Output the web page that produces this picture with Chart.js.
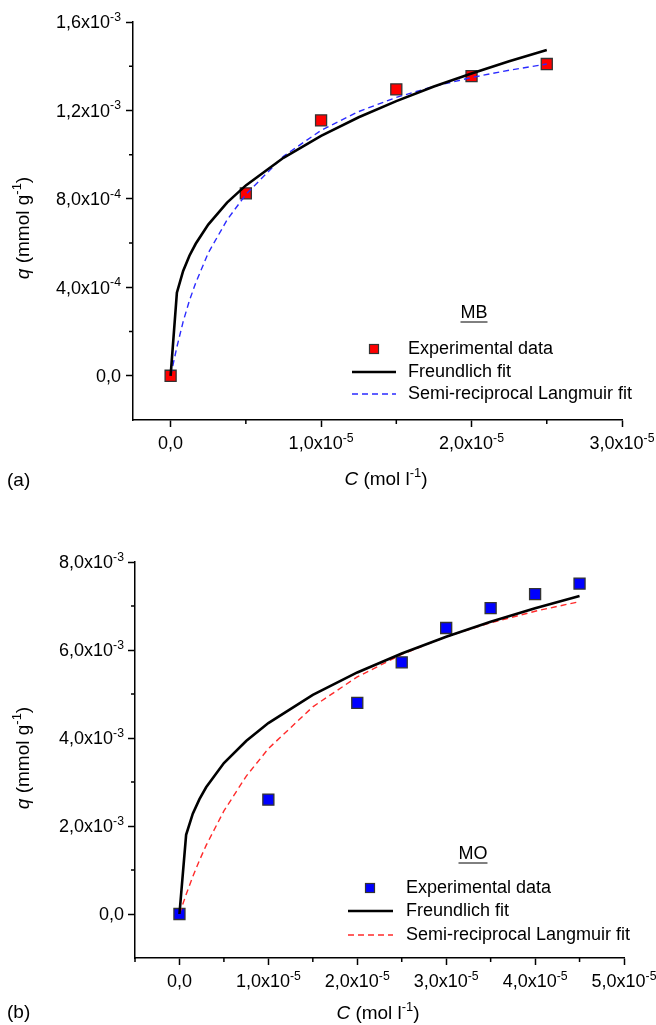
<!DOCTYPE html>
<html>
<head>
<meta charset="utf-8">
<script src="https://cdn.jsdelivr.net/npm/chart.js@4.4.1/dist/chart.umd.min.js"></script>
<style>
  body { margin: 0; background: #fff; }
  canvas { position: absolute; left: 0; }
  #chartA { top: 0; }
  #chartB { top: 510px; }
</style>
</head>
<body>
<canvas id="chartA" width="656" height="510"></canvas>
<canvas id="chartB" width="656" height="515"></canvas>
<script>
// (a) MB
const mbC = [0, 0.5e-5, 1.0e-5, 1.5e-5, 2.0e-5, 2.5e-5];
const mbQ = [0, 8.25e-4, 1.155e-3, 1.295e-3, 1.355e-3, 1.41e-3];
const mbFitC = [0, 0.0417e-5, 0.0833e-5, 0.125e-5, 0.1667e-5, 0.25e-5, 0.375e-5, 0.5e-5, 0.75e-5,
  1.0e-5, 1.25e-5, 1.5e-5, 1.75e-5, 2.0e-5, 2.25e-5, 2.5e-5];
const mbFreundlich = [0, 3.76e-4, 4.74e-4, 5.43e-4, 5.97e-4, 6.84e-4, 7.83e-4, 8.61e-4, 9.86e-4,
  1.085e-3, 1.169e-3, 1.242e-3, 1.308e-3, 1.367e-3, 1.422e-3, 1.473e-3];
const mbLangmuir = [0, 1.30e-4, 2.45e-4, 3.40e-4, 4.20e-4, 5.55e-4, 7.05e-4, 8.20e-4, 9.93e-4,
  1.110e-3, 1.195e-3, 1.259e-3, 1.309e-3, 1.349e-3, 1.382e-3, 1.410e-3];

// (b) MO
const moC = [0, 1.0e-5, 2.0e-5, 2.5e-5, 3.0e-5, 3.5e-5, 4.0e-5, 4.5e-5];
const moQ = [0, 2.6e-3, 4.8e-3, 5.72e-3, 6.5e-3, 6.95e-3, 7.27e-3, 7.51e-3];
const moFitC = [0, 0.075e-5, 0.15e-5, 0.225e-5, 0.3e-5, 0.5e-5, 0.75e-5, 1.0e-5, 1.5e-5,
  2.0e-5, 2.5e-5, 3.0e-5, 3.5e-5, 4.0e-5, 4.5e-5];
const moFreundlich = [0, 1.80e-3, 2.28e-3, 2.61e-3, 2.88e-3, 3.43e-3, 3.93e-3, 4.34e-3, 4.98e-3,
  5.49e-3, 5.92e-3, 6.30e-3, 6.64e-3, 6.95e-3, 7.23e-3];
const moLangmuir = [0, 0.444e-3, 0.849e-3, 1.219e-3, 1.559e-3, 2.342e-3, 3.129e-3, 3.759e-3, 4.709e-3,
  5.389e-3, 5.901e-3, 6.300e-3, 6.620e-3, 6.881e-3, 7.10e-3];

const legendLabels = ['Experimental data', 'Freundlich fit', 'Semi-reciprocal Langmuir fit'];

const FONT = "'Liberation Sans', Arial, sans-serif";

// tick value -> text parts, e.g. 1,6 x10 with superscript -3
function sciParts(v) {
  if (Math.abs(v) < 1e-12) return [{t: '0,0'}];
  const e = Math.floor(Math.log10(Math.abs(v)) + 1e-9);
  const m = (v / Math.pow(10, e)).toFixed(1).replace('.', ',');
  return [{t: m + 'x10'}, {t: String(e), sup: true}];
}

function pts(xs, ys) {
  return xs.map((x, i) => ({x: x, y: ys[i]}));
}

// draw text made of parts (italic / superscript); align 'center' or 'right'
function rich(ctx, parts, x, y, size, align) {
  const fontOf = p => (p.it ? 'italic ' : '') + (p.sup ? size * 0.68 : size) + 'px ' + FONT;
  let w = 0;
  parts.forEach(p => { ctx.font = fontOf(p); w += ctx.measureText(p.t).width; });
  let cx = align === 'right' ? x - w : x - w / 2;
  const base = y + size * 0.36;
  ctx.textAlign = 'left';
  ctx.textBaseline = 'alphabetic';
  parts.forEach(p => {
    ctx.font = fontOf(p);
    ctx.fillText(p.t, cx, p.sup ? base - size * 0.42 : base);
    cx += ctx.measureText(p.t).width;
  });
}

const extras = {
  id: 'extras',
  afterDraw(chart, args, o) {
    const ctx = chart.ctx, xs = chart.scales.x, ys = chart.scales.y;
    ctx.save();
    // minor ticks
    ctx.strokeStyle = '#000';
    ctx.lineWidth = 1.5;
    ctx.beginPath();
    o.xMinor.forEach(v => {
      const px = xs.getPixelForValue(v);
      ctx.moveTo(px, xs.top); ctx.lineTo(px, xs.top + 4);
    });
    o.yMinor.forEach(v => {
      const py = ys.getPixelForValue(v);
      ctx.moveTo(ys.right, py); ctx.lineTo(ys.right - 4, py);
    });
    ctx.stroke();

    ctx.fillStyle = '#000';
    // tick labels
    xs.ticks.forEach(t => rich(ctx, sciParts(t.value), xs.getPixelForValue(t.value), xs.top + 23, 18, 'center'));
    ys.ticks.forEach(t => rich(ctx, sciParts(t.value), ys.right - o.yGap, ys.getPixelForValue(t.value), 18, 'right'));

    // axis titles
    rich(ctx, [{t: 'C', it: true}, {t: ' (mol l'}, {t: '-1', sup: true}, {t: ')'}], o.xTitle[0], o.xTitle[1], 19, 'center');
    ctx.save();
    ctx.translate(o.yTitle[0], o.yTitle[1]);
    ctx.rotate(-Math.PI / 2);
    rich(ctx, [{t: 'q', it: true}, {t: ' (mmol g'}, {t: '-1', sup: true}, {t: ')'}], 0, 0, 19, 'center');
    ctx.restore();

    // panel label
    ctx.font = '19px ' + FONT;
    ctx.textAlign = 'left';
    ctx.textBaseline = 'middle';
    ctx.fillText(o.panel, o.panelPos[0], o.panelPos[1]);

    // dye tag, underlined
    ctx.font = '18px ' + FONT;
    ctx.textAlign = 'center';
    ctx.fillText(o.tag, o.tagPos[0], o.tagPos[1]);
    const tw = ctx.measureText(o.tag).width;
    ctx.lineWidth = 1;
    ctx.beginPath();
    ctx.moveTo(o.tagPos[0] - tw / 2, o.tagPos[1] + 9);
    ctx.lineTo(o.tagPos[0] + tw / 2, o.tagPos[1] + 9);
    ctx.stroke();

    // legend
    const L = o.legend;
    const ds = chart.data.datasets;
    ctx.fillStyle = ds[2].backgroundColor;
    ctx.strokeStyle = '#333';
    ctx.lineWidth = 1.2;
    ctx.fillRect(L.sym - 4.5, L.rows[0] - 4.5, 9, 9);
    ctx.strokeRect(L.sym - 4.5, L.rows[0] - 4.5, 9, 9);
    [0, 1].forEach(i => {
      const d = ds[i];
      ctx.strokeStyle = d.borderColor;
      ctx.lineWidth = d.borderWidth;
      ctx.setLineDash(d.borderDash || []);
      ctx.beginPath();
      ctx.moveTo(L.x0, L.rows[i + 1]);
      ctx.lineTo(L.x1, L.rows[i + 1]);
      ctx.stroke();
    });
    ctx.setLineDash([]);
    ctx.fillStyle = '#000';
    ctx.font = '18px ' + FONT;
    ctx.textAlign = 'left';
    ctx.textBaseline = 'middle';
    legendLabels.forEach((t, i) => ctx.fillText(t, L.text, L.rows[i]));
    ctx.restore();
  }
};

function makeChart(id, c) {
  return new Chart(document.getElementById(id), {
    type: 'scatter',
    data: {
      datasets: [
        {
          label: legendLabels[1],
          data: pts(c.fitC, c.freundlich),
          showLine: true, pointRadius: 0, tension: 0,
          borderColor: '#000', borderWidth: 2.6
        },
        {
          label: legendLabels[2],
          data: pts(c.fitC, c.langmuir),
          showLine: true, pointRadius: 0, tension: 0,
          borderColor: c.dashColor, borderWidth: 1.4, borderDash: [6, 4]
        },
        {
          label: legendLabels[0],
          data: pts(c.expC, c.expQ),
          pointStyle: 'rect', pointRadius: 7.8,
          backgroundColor: c.pointColor, borderColor: '#333', borderWidth: 1.3
        }
      ]
    },
    options: {
      responsive: false,
      animation: false,
      layout: { padding: { top: c.padTop, right: c.padRight, left: 0, bottom: 0 } },
      plugins: {
        legend: { display: false },
        tooltip: { enabled: false },
        extras: c.extras
      },
      scales: {
        x: {
          type: 'linear',
          min: c.xMin, max: c.xMax,
          afterFit: s => { s.height = c.xHeight; },
          border: { display: true, color: '#000', width: 1.5 },
          grid: { drawOnChartArea: false, drawTicks: true, tickLength: 7, tickColor: '#000', tickWidth: 1.5 },
          ticks: { stepSize: c.xStep, includeBounds: false, display: false }
        },
        y: {
          type: 'linear',
          min: c.yMin, max: c.yMax,
          afterFit: s => { s.width = c.yWidth; },
          border: { display: true, color: '#000', width: 1.5 },
          grid: { drawOnChartArea: false, drawTicks: true, tickLength: 7, tickColor: '#000', tickWidth: 1.5 },
          ticks: { stepSize: c.yStep, includeBounds: false, display: false }
        }
      }
    },
    plugins: [extras]
  });
}

makeChart('chartA', {
  expC: mbC, expQ: mbQ, fitC: mbFitC, freundlich: mbFreundlich, langmuir: mbLangmuir,
  pointColor: '#ff0000', dashColor: '#2b2bff',
  xMin: -0.25e-5, xMax: 3.0e-5, xStep: 1e-5,
  yMin: -2e-4, yMax: 1.6e-3, yStep: 4e-4,
  padTop: 22, padRight: 34, yWidth: 133, xHeight: 90,
  extras: {
    xMinor: [0.5e-5, 1.5e-5, 2.5e-5],
    yMinor: [2e-4, 6e-4, 1.0e-3, 1.4e-3],
    yGap: 12,
    xTitle: [386, 478], yTitle: [22, 228],
    panel: '(a)', panelPos: [7, 481],
    tag: 'MB', tagPos: [474, 313],
    legend: { sym: 374, x0: 352, x1: 396, text: 408, rows: [349, 372, 394] }
  }
});

makeChart('chartB', {
  expC: moC, expQ: moQ, fitC: moFitC, freundlich: moFreundlich, langmuir: moLangmuir,
  pointColor: '#0000ff', dashColor: '#ff2a2a',
  xMin: -0.5e-5, xMax: 5.0e-5, xStep: 1e-5,
  yMin: -1e-3, yMax: 8e-3, yStep: 2e-3,
  padTop: 52, padRight: 32, yWidth: 135, xHeight: 67,
  extras: {
    xMinor: [-0.5e-5, 0.5e-5, 1.5e-5, 2.5e-5, 3.5e-5, 4.5e-5],
    yMinor: [1e-3, 3e-3, 5e-3, 7e-3],
    yGap: 11,
    xTitle: [378, 502], yTitle: [22, 248],
    panel: '(b)', panelPos: [7, 503],
    tag: 'MO', tagPos: [473, 344],
    legend: { sym: 370, x0: 348, x1: 393, text: 406, rows: [378, 401, 425] }
  }
});
</script>
</body>
</html>
